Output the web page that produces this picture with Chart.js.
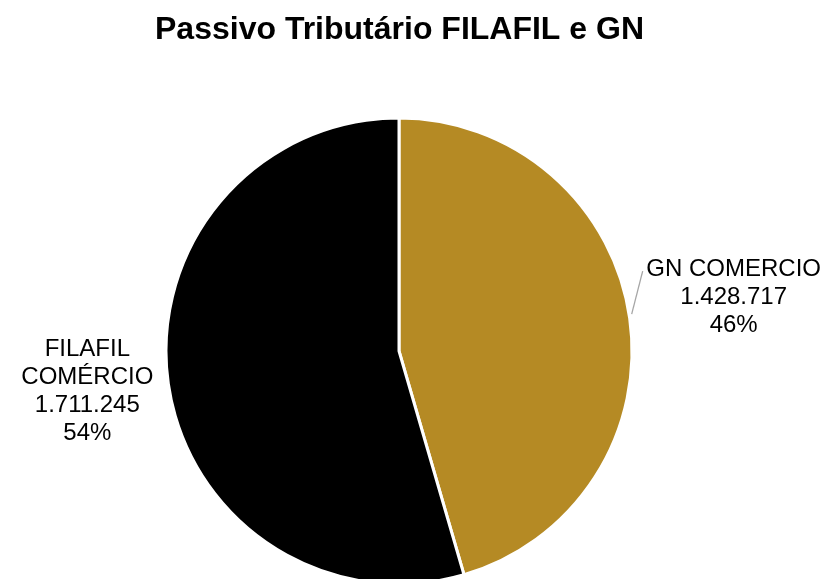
<!DOCTYPE html>
<html>
<head>
<meta charset="utf-8">
<script src="https://cdn.jsdelivr.net/npm/chart.js@4.4.1/dist/chart.umd.min.js"></script>
<style>
html,body{margin:0;padding:0;background:#fff;}
canvas{display:block;}
</style>
</head>
<body>
<canvas id="c" width="827" height="579"></canvas>
<script>
const chartTitle = 'Passivo Tributário FILAFIL e GN';
const categories = ['GN COMERCIO', 'FILAFIL COMÉRCIO'];
const labelLines = [['GN COMERCIO'], ['FILAFIL', 'COMÉRCIO']];
const values = [1428717, 1711245];
const colors = ['#B58A24', '#000000'];

function fmt(n){ return String(n).replace(/\B(?=(\d{3})+(?!\d))/g, '.'); }

const FONT = '"Liberation Sans", Arial, Helvetica, sans-serif';
// label block offsets relative to the arc's outer mid point
const labelOffsets = [{dx:104, dy:-21}, {dx:-81, dy:7.5}];

const labelPlugin = {
  id: 'labels',
  afterDraw(chart){
    const ctx = chart.ctx;
    ctx.save();
    // title
    ctx.fillStyle = '#000';
    ctx.font = 'bold 32px ' + FONT;
    ctx.textAlign = 'center';
    ctx.textBaseline = 'alphabetic';
    ctx.fillText(chartTitle, 399.5, 39);

    const meta = chart.getDatasetMeta(0);
    const total = values.reduce((a,b)=>a+b,0);
    ctx.font = '24px ' + FONT;
    ctx.textBaseline = 'middle';
    meta.data.forEach((arc, i) => {
      const p = arc.getProps(['x','y','startAngle','endAngle','outerRadius'], true);
      const mid = (p.startAngle + p.endAngle) / 2;
      const ax = p.x + Math.cos(mid) * p.outerRadius;
      const ay = p.y + Math.sin(mid) * p.outerRadius;
      const lines = labelLines[i].concat([fmt(values[i]), Math.round(values[i]/total*100) + '%']);
      const lh = 27.8;
      const cx = ax + labelOffsets[i].dx;
      const cy = ay + labelOffsets[i].dy;
      const y0 = cy - (lines.length - 1) * lh / 2;
      ctx.fillStyle = '#000';
      lines.forEach((t, k) => ctx.fillText(t, cx, y0 + k * lh));
      if (i === 0) {
        ctx.strokeStyle = '#A6A6A6';
        ctx.lineWidth = 1.3;
        ctx.beginPath();
        ctx.moveTo(ax + 2, ay - 4);
        ctx.lineTo(ax + 13, ay - 47);
        ctx.stroke();
      }
    });
    ctx.restore();
  }
};

new Chart(document.getElementById('c'), {
  type: 'pie',
  data: {
    labels: categories,
    datasets: [{
      data: values,
      backgroundColor: colors,
      borderColor: '#ffffff',
      borderWidth: 3,
      radius: 233,
      clip: false
    }]
  },
  options: {
    responsive: false,
    animation: false,
    devicePixelRatio: 1,
    layout: { padding: { top: 123, bottom: 0, left: 0, right: 29 } },
    plugins: {
      legend: { display: false },
      title: { display: false },
      tooltip: { enabled: false }
    }
  },
  plugins: [labelPlugin]
});
</script>
</body>
</html>
